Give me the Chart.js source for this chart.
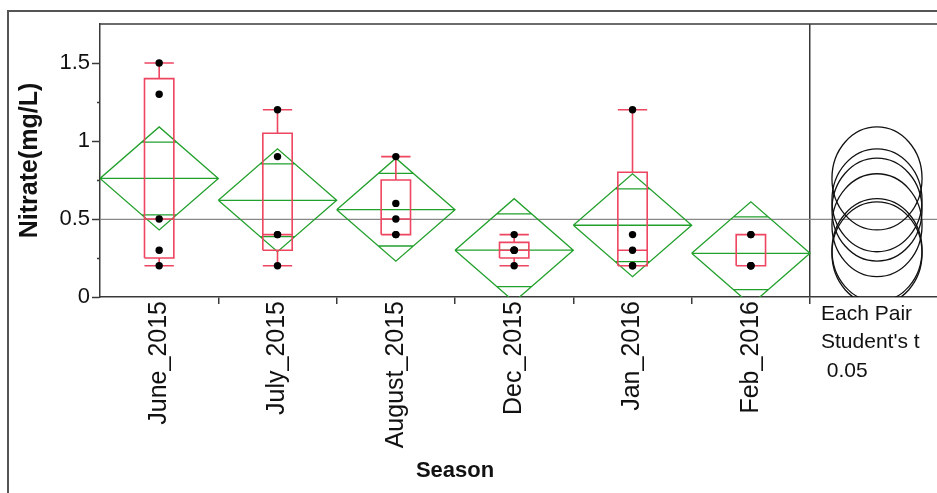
<!DOCTYPE html>
<html>
<head>
<meta charset="utf-8">
<script src="https://cdn.jsdelivr.net/npm/chart.js@4.4.1/dist/chart.umd.min.js"></script>
<style>
  html, body { margin: 0; padding: 0; background: #fff; overflow: hidden; }
  #marco { position: absolute; left: 7px; top: 10px; width: 960px; height: 500px; border-top: 2px solid #555; border-left: 2px solid #555; }
  #nitrato { position: absolute; left: 0; top: 0; }
</style>
</head>
<body>
<div id="marco"></div>
<canvas id="nitrato" width="937" height="493"></canvas>
<script>
const temporadas = ['June_2015', 'July_2015', 'August_2015', 'Dec_2015', 'Jan_2016', 'Feb_2016'];

// lecturas de nitrato (mg/L) por temporada
const june2015 = [1.5, 1.3, 0.5, 0.3, 0.2];
const july2015 = [1.2, 0.9, 0.4, 0.4, 0.2];
const august2015 = [0.9, 0.6, 0.5, 0.4, 0.4];
const dec2015 = [0.4, 0.3, 0.3, 0.3, 0.2];
const jan2016 = [1.2, 0.4, 0.3, 0.2, 0.2];
const feb2016 = [0.4, 0.4, 0.2, 0.2, 0.2];
const lecturas = [june2015, july2015, august2015, dec2015, jan2016, feb2016];

// cajas (cuantiles)
const cuartil1 = [0.25, 0.30, 0.40, 0.25, 0.20, 0.20];
const mediana = [0.5, 0.4, 0.5, 0.3, 0.3, 0.2];
const cuartil3 = [1.40, 1.05, 0.75, 0.35, 0.80, 0.40];
const bigoteBajo = [0.2, 0.2, 0.4, 0.2, 0.2, 0.2];
const bigoteAlto = [1.5, 1.2, 0.9, 0.4, 1.2, 0.4];

// diamantes de medias: media, semiancho del IC 95% y marcas de solape
const medias = [0.76, 0.62, 0.56, 0.30, 0.46, 0.28];
const intervalo95 = [0.33, 0.33, 0.33, 0.33, 0.33, 0.33];
const solape = [0.233, 0.233, 0.233, 0.233, 0.233, 0.233];
const mediaGlobal = 0.497;

const ticksY = [0, 0.5, 1, 1.5];

const X_MIN = -0.5;
const X_MAX = 6.573;       // deja sitio al panel de circulos
const CENTRO_CIRCULOS = 6.066;
const DIVISOR = 5.5;
const anchoCaja = 0.124;

const ROJO = '#ee4560';
const VERDE = '#22a02c';
const EJE = '#3a3a3a';

Chart.defaults.font.family = '"Liberation Sans", Arial, sans-serif';
Chart.defaults.color = '#111';

const corte = i => ({x: i, y: null});

// puntos de cada lectura
const puntos = lecturas.flatMap((vals, i) => vals.map(v => ({x: i, y: v})));

// caja, mediana, bigotes y topes
const cajas = cuartil1.flatMap((q1, i) => {
  const q3 = cuartil3[i], lo = bigoteBajo[i], hi = bigoteAlto[i], w = anchoCaja;
  return [
    {x: i - w, y: q1}, {x: i + w, y: q1}, {x: i + w, y: q3}, {x: i - w, y: q3}, {x: i - w, y: q1}, corte(i),
    {x: i - w, y: mediana[i]}, {x: i + w, y: mediana[i]}, corte(i),
    {x: i, y: q3}, {x: i, y: hi}, corte(i),
    {x: i - w, y: hi}, {x: i + w, y: hi}, corte(i),
    {x: i, y: q1}, {x: i, y: lo}, corte(i),
    {x: i - w, y: lo}, {x: i + w, y: lo}, corte(i)
  ];
});

const diamantes = medias.flatMap((m, i) => {
  const ci = intervalo95[i], s = solape[i];
  const a = 0.5 * (1 - s / ci); // semiancho del rombo a la altura de la marca
  return [
    {x: i - 0.5, y: m}, {x: i, y: m + ci}, {x: i + 0.5, y: m}, {x: i, y: m - ci}, {x: i - 0.5, y: m}, corte(i),
    {x: i - 0.5, y: m}, {x: i + 0.5, y: m}, corte(i),
    {x: i - a, y: m + s}, {x: i + a, y: m + s}, corte(i),
    {x: i - a, y: m - s}, {x: i + a, y: m - s}, corte(i)
  ];
});

// circulos de comparacion, textos y linea superior
const panelComparacion = {
  id: 'panelComparacion',
  afterDatasetsDraw(chart) {
    const {ctx, chartArea, scales: {x, y}} = chart;
    ctx.save();
    ctx.beginPath();
    ctx.rect(chartArea.left, chartArea.top, chartArea.right - chartArea.left, chartArea.bottom - chartArea.top);
    ctx.clip();
    const cx = x.getPixelForValue(CENTRO_CIRCULOS);
    ctx.strokeStyle = '#111';
    ctx.lineWidth = 1.3;
    medias.forEach((m, i) => {
      const cy = y.getPixelForValue(m);
      const r = y.getPixelForValue(m - intervalo95[i]) - cy;
      ctx.beginPath();
      ctx.ellipse(cx, cy, r * 0.875, r, 0, 0, Math.PI * 2);
      ctx.stroke();
    });
    ctx.restore();

    ctx.save();
    ctx.strokeStyle = EJE;
    ctx.lineWidth = 1.5;
    ctx.beginPath();
    ctx.moveTo(chartArea.left, chartArea.top);
    ctx.lineTo(chartArea.right, chartArea.top);
    ctx.stroke();
    ctx.restore();
  },
  afterDraw(chart) {
    const {ctx, chartArea, scales: {x}} = chart;
    ctx.save();
    ctx.fillStyle = '#111';
    ctx.textBaseline = 'alphabetic';
    ctx.textAlign = 'left';
    ctx.font = '21px "Liberation Sans", Arial, sans-serif';
    const xt = x.getPixelForValue(DIVISOR) + 11;
    ctx.fillText('Each Pair', xt, chartArea.bottom + 23);
    ctx.fillText("Student's t", xt, chartArea.bottom + 51);
    ctx.fillText(' 0.05', xt, chartArea.bottom + 80);

    ctx.textAlign = 'center';
    ctx.font = 'bold 22px "Liberation Sans", Arial, sans-serif';
    const xc = (x.getPixelForValue(X_MIN) + x.getPixelForValue(DIVISOR)) / 2;
    ctx.fillText('Season', xc, chartArea.bottom + 180);
    ctx.restore();
  }
};

new Chart(document.querySelector('#nitrato'), {
  type: 'scatter',
  data: {
    datasets: [
      {
        data: puntos,
        pointRadius: 3.7,
        pointBackgroundColor: '#000',
        pointBorderWidth: 0,
        showLine: false
      },
      {
        data: cajas,
        showLine: true,
        borderColor: ROJO,
        borderWidth: 1.6,
        pointRadius: 0
      },
      {
        data: diamantes,
        showLine: true,
        borderColor: VERDE,
        borderWidth: 1.3,
        pointRadius: 0
      },
      {
        data: [{x: X_MIN, y: mediaGlobal}, {x: X_MAX, y: mediaGlobal}],
        showLine: true,
        borderColor: '#888',
        borderWidth: 1.3,
        pointRadius: 0
      }
    ]
  },
  options: {
    responsive: false,
    animation: false,
    devicePixelRatio: 1,
    layout: { autoPadding: false, padding: { top: 24, left: 0, right: 0, bottom: 0 } },
    plugins: { legend: { display: false }, tooltip: { enabled: false } },
    scales: {
      x: {
        type: 'linear',
        min: X_MIN,
        max: X_MAX,
        bounds: 'data',
        afterBuildTicks: scale => { scale.ticks = temporadas.map((t, i) => ({value: i})); },
        afterFit: scale => {
          scale.height = 196;
          scale.paddingLeft = 0;
          scale.paddingRight = 0;
        },
        ticks: {
          autoSkip: false,
          minRotation: 90,
          maxRotation: 90,
          padding: -3,
          font: { size: 25 },
          color: '#111',
          callback: v => temporadas[v] ?? ''
        },
        grid: {
          offset: true,
          drawOnChartArea: true,
          tickLength: 7,
          lineWidth: 1.5,
          color: c => c.type === 'tick' ? 'transparent' : EJE,
          tickColor: c => (c.type === 'tick' && c.index === 0) ? 'transparent' : EJE
        },
        border: { display: true, color: EJE, width: 1.5 }
      },
      y: {
        min: 0,
        max: 1.75,
        afterFit: scale => { scale.width = 100; },
        ticks: {
          stepSize: 0.25,
          padding: 2,
          font: { size: 22 },
          color: '#111',
          callback: v => ticksY.includes(v) ? String(v) : ''
        },
        grid: {
          drawOnChartArea: false,
          tickLength: 8,
          tickWidth: 1.5,
          tickColor: c => (c.tick && c.tick.value === 1.75) ? 'transparent' : EJE,
          tickBorderDash: c => (c.tick && ticksY.includes(c.tick.value)) ? [] : [0, 5, 3, 20]
        },
        border: { display: true, color: EJE, width: 1.5 },
        title: {
          display: true,
          text: 'Nitrate(mg/L)',
          font: { size: 25, weight: 'bold' },
          color: '#111',
          padding: { top: 15, bottom: 0 }
        }
      }
    }
  },
  plugins: [panelComparacion]
});
</script>
</body>
</html>
